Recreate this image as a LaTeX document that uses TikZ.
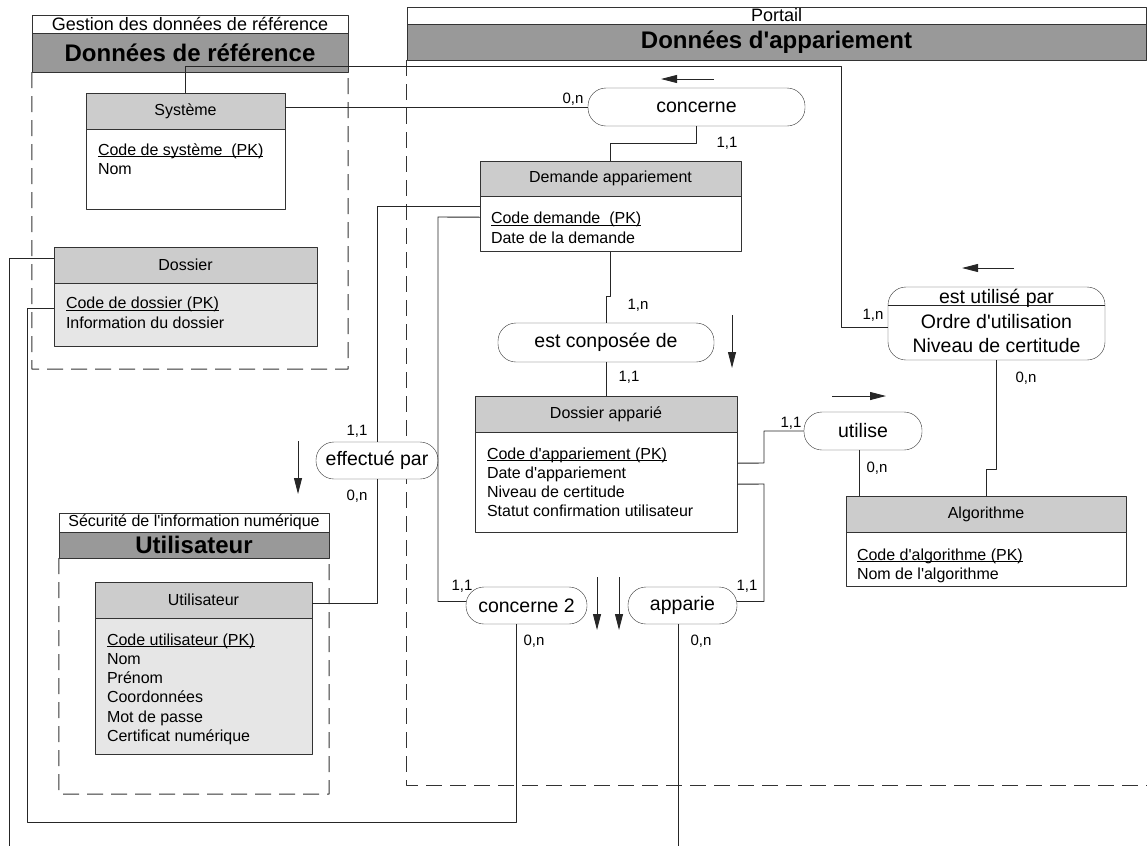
\documentclass[tikz,border=0pt]{standalone}
\usepackage{fontspec}
\setmainfont{Liberation Sans}[Ligatures=TeXOff]
\usetikzlibrary{arrows.meta}

\newcommand{\attrfont}{\fontsize{16}{19.3}\selectfont}
\newcommand{\relfont}{\fontsize{19.5}{24}\selectfont}
\newcommand{\cardfont}{\fontsize{15}{18}\selectfont}
\newcommand{\grpfont}{\fontsize{18}{21}\selectfont}
\newcommand{\grpbigfont}{\fontsize{24}{28}\selectfont\bfseries}
% cle primaire soulignee juste sous la ligne de base
\newcommand{\cle}[1]{\leavevmode\setbox0\hbox{#1}\rlap{\rule[-2pt]{\wd0}{0.9pt}}\box0}

\definecolor{headgray}{HTML}{CCCCCC}
\definecolor{bodygray}{HTML}{E6E6E6}
\definecolor{bargray}{HTML}{999999}

\tikzset{
  enthead/.style={draw=black!80, fill=headgray, inner sep=0pt, font=\attrfont},
  entbody/.style={draw=black!80, anchor=north, inner sep=0pt},
  attr/.style={anchor=north west, inner sep=0pt, align=left, font=\attrfont},
  assoc/.style={draw=black!80, fill=white, rounded corners=18pt, inner sep=0pt, font=\relfont},
  card/.style={inner sep=0pt, font=\cardfont},
  grptitle/.style={draw=black!80, fill=white, inner sep=0pt},
  grpbar/.style={draw=black!80, fill=bargray, inner sep=0pt, font=\grpbigfont},
  grpframe/.style={draw=black!80, dash pattern=on 16pt off 8pt, line width=1pt},
  conn/.style={draw=black!85, line width=0.9pt},
}

\begin{document}
\begin{tikzpicture}[x=1pt, y=-1pt, >={Triangle[length=16pt,width=8pt]}, line join=round]
	\useasboundingbox (0,0) rectangle (1147,846);
	% groupes
	\node[grptitle, minimum width=316pt, minimum height=18pt, font=\grpfont] (gesT) at (190,24) {Gestion des données de référence};
	\node[grpbar, minimum width=316pt, minimum height=39pt] (gesB) at (190,52.5) {Données de référence};
	\draw[grpframe] (gesB.south west) |- (348,369) -- (gesB.south east);
	\node[grptitle, minimum width=739pt, minimum height=17pt, font=\grpfont] (porT) at (776.5,15.5) {Portail};
	\node[grpbar, minimum width=739pt, minimum height=36pt] (porB) at (776.5,42) {Données d'appariement};
	\draw[grpframe] (porB.south west) |- (1147,785);
	\node[grptitle, minimum width=270pt, minimum height=19pt, font=\attrfont] (secT) at (194,522.5) {Sécurité de l'information numérique};
	\node[grpbar, minimum width=270pt, minimum height=26pt] (secB) at (194,545) {Utilisateur};
	\draw[grpframe] (secB.south west) |- (329,794) -- (secB.south east);
	% entites
	\node[enthead, minimum width=199pt, minimum height=36pt] (sys) at (185.5,111) {Système};
	\node[entbody, fill=white, minimum width=199pt, minimum height=80pt] (sysb) at (sys.south) {};
	\node[attr] (sysa) at ([xshift=12pt,yshift=-14pt]sysb.north west) {\cle{Code de système\ \ (PK)}\\Nom};
	\node[enthead, minimum width=263pt, minimum height=36pt] (dos) at (185.5,265) {Dossier};
	\node[entbody, fill=bodygray, minimum width=263pt, minimum height=63pt] (dosb) at (dos.south) {};
	\node[attr] (dosa) at ([xshift=12pt,yshift=-14pt]dosb.north west) {\cle{Code de dossier (PK)}\\Information du dossier};
	\node[enthead, minimum width=261pt, minimum height=35pt] (dem) at (610.5,178.5) {Demande appariement};
	\node[entbody, fill=white, minimum width=261pt, minimum height=55pt] (demb) at (dem.south) {};
	\node[attr] (dema) at ([xshift=11pt,yshift=-16pt]demb.north west) {\cle{Code demande\ \ (PK)}\\Date de la demande};
	\node[enthead, minimum width=262pt, minimum height=36pt] (dap) at (606,414) {Dossier apparié};
	\node[entbody, fill=white, minimum width=262pt, minimum height=100pt] (dapb) at (dap.south) {};
	\node[attr] (dapa) at ([xshift=12pt,yshift=-15pt]dapb.north west) {\cle{Code d'appariement (PK)}\\Date d'appariement\\Niveau de certitude\\Statut confirmation utilisateur};
	\node[enthead, minimum width=280pt, minimum height=36pt] (alg) at (986,514) {Algorithme};
	\node[entbody, fill=white, minimum width=280pt, minimum height=54pt] (algb) at (alg.south) {};
	\node[attr] (alga) at ([xshift=11pt,yshift=-16pt]algb.north west) {\cle{Code d'algorithme (PK)}\\Nom de l'algorithme};
	\node[enthead, minimum width=217pt, minimum height=36pt] (usr) at (203.5,600) {Utilisateur};
	\node[entbody, fill=bodygray, minimum width=217pt, minimum height=136pt] (usrb) at (usr.south) {};
	\node[attr] (usra) at ([xshift=12pt,yshift=-15pt]usrb.north west) {\cle{Code utilisateur (PK)}\\Nom\\Prénom\\Coordonnées\\Mot de passe\\Certificat numérique};
	% associations
	\node[assoc, minimum width=217pt, minimum height=38pt] (conc) at (696.5,107) {concerne};
	\node[assoc, minimum width=216pt, minimum height=39pt] (comp) at (606,342.5) {est conposée de};
	\node[assoc, minimum width=122pt, minimum height=37pt] (eff) at (377,460.5) {effectué par};
	\node[assoc, minimum width=118pt, minimum height=38pt] (util) at (863,431) {utilise};
	\node[assoc, minimum width=217pt, minimum height=73pt] (estu) at (996.5,323.5) {};
	\draw[conn] ([yshift=-19pt]estu.north west) -- ([yshift=-19pt]estu.north east);
	\node[inner sep=0pt, font=\relfont] (estut) at (996.5,298) {est utilisé par};
	\node[inner sep=0pt, font=\relfont, align=center] (estua) at (996.5,334) {Ordre d'utilisation\\Niveau de certitude};
	\node[assoc, minimum width=121pt, minimum height=37pt] (conc2) at (526.5,605.5) {concerne 2};
	\node[assoc, minimum width=109pt, minimum height=37pt] (app) at (682.5,605.5) {apparie};
	% liens
	\draw[conn] (sys.north) |- (841,66) |- ([yshift=-4pt]estu.west);
	\draw[conn] ([yshift=4pt]sys.east) -- (conc.west);
	\draw[conn] (conc.south) -- ++(0,17) -| (dem.north);
	\draw[conn] ([yshift=-10pt]demb.north west) -| (eff.north);
	\draw[conn] (eff.south) |- ([yshift=-3pt]usr.east);
	\draw[conn] ([yshift=-21pt]demb.north west) -- (438,217) |- ([yshift=4pt]conc2.west);
	\draw[conn] (demb.south) |- (606,296) -- (comp.north);
	\draw[conn] (comp.south) -- (dap.north);
	\draw[conn] ([yshift=-31pt]dapb.north east) -- (764,463) |- (util.west);
	\draw[conn] ([xshift=-4pt]util.south) -- ([xshift=-4pt]util.south |- alg.north);
	\draw[conn] (estu.south) -- ++(0,109) -| (alg.north);
	\draw[conn] ([yshift=-52pt]dapb.north east) -- (764,484) |- ([yshift=4pt]app.east);
	\draw[conn] ([xshift=-10pt]conc2.south) |- (27,822) |- ([yshift=-25pt]dosb.north west);
	\coordinate (appout) at (678.5,846);
	\draw[conn] ([xshift=-4pt]app.south) -- (appout);
	\coordinate (dosout) at (9,846);
	\draw[conn] ([yshift=7pt]dos.west) -| (dosout);
	% cardinalites
	\node[card] (k1) at (873,315) {1,n};
	\node[card] (k2) at (573,99) {0,n};
	\node[card] (k3) at (727,143) {1,1};
	\node[card] (k4) at (357,431) {1,1};
	\node[card] (k5) at (357,496) {0,n};
	\node[card] (k6) at (462,586) {1,1};
	\node[card] (k7) at (638,305) {1,n};
	\node[card] (k8) at (629,377) {1,1};
	\node[card] (k9) at (791,423) {1,1};
	\node[card] (k10) at (877,468) {0,n};
	\node[card] (k11) at (1026,378) {0,n};
	\node[card] (k12) at (747,586) {1,1};
	\node[card] (k13) at (534,641) {0,n};
	\node[card] (k14) at (701,641) {0,n};
	% sens de lecture
	\draw[->, conn] (714,79) -- (661,79);
	\draw[->, conn] (1014,268) -- (962,268);
	\draw[->, conn] (832,396) -- (886,396);
	\draw[->, conn] (732,315) -- (732,368);
	\draw[->, conn] (298,441) -- (298,494);
	\draw[->, conn] (597,577) -- (597,630);
	\draw[->, conn] (619,577) -- (619,630);
\end{tikzpicture}
\end{document}
